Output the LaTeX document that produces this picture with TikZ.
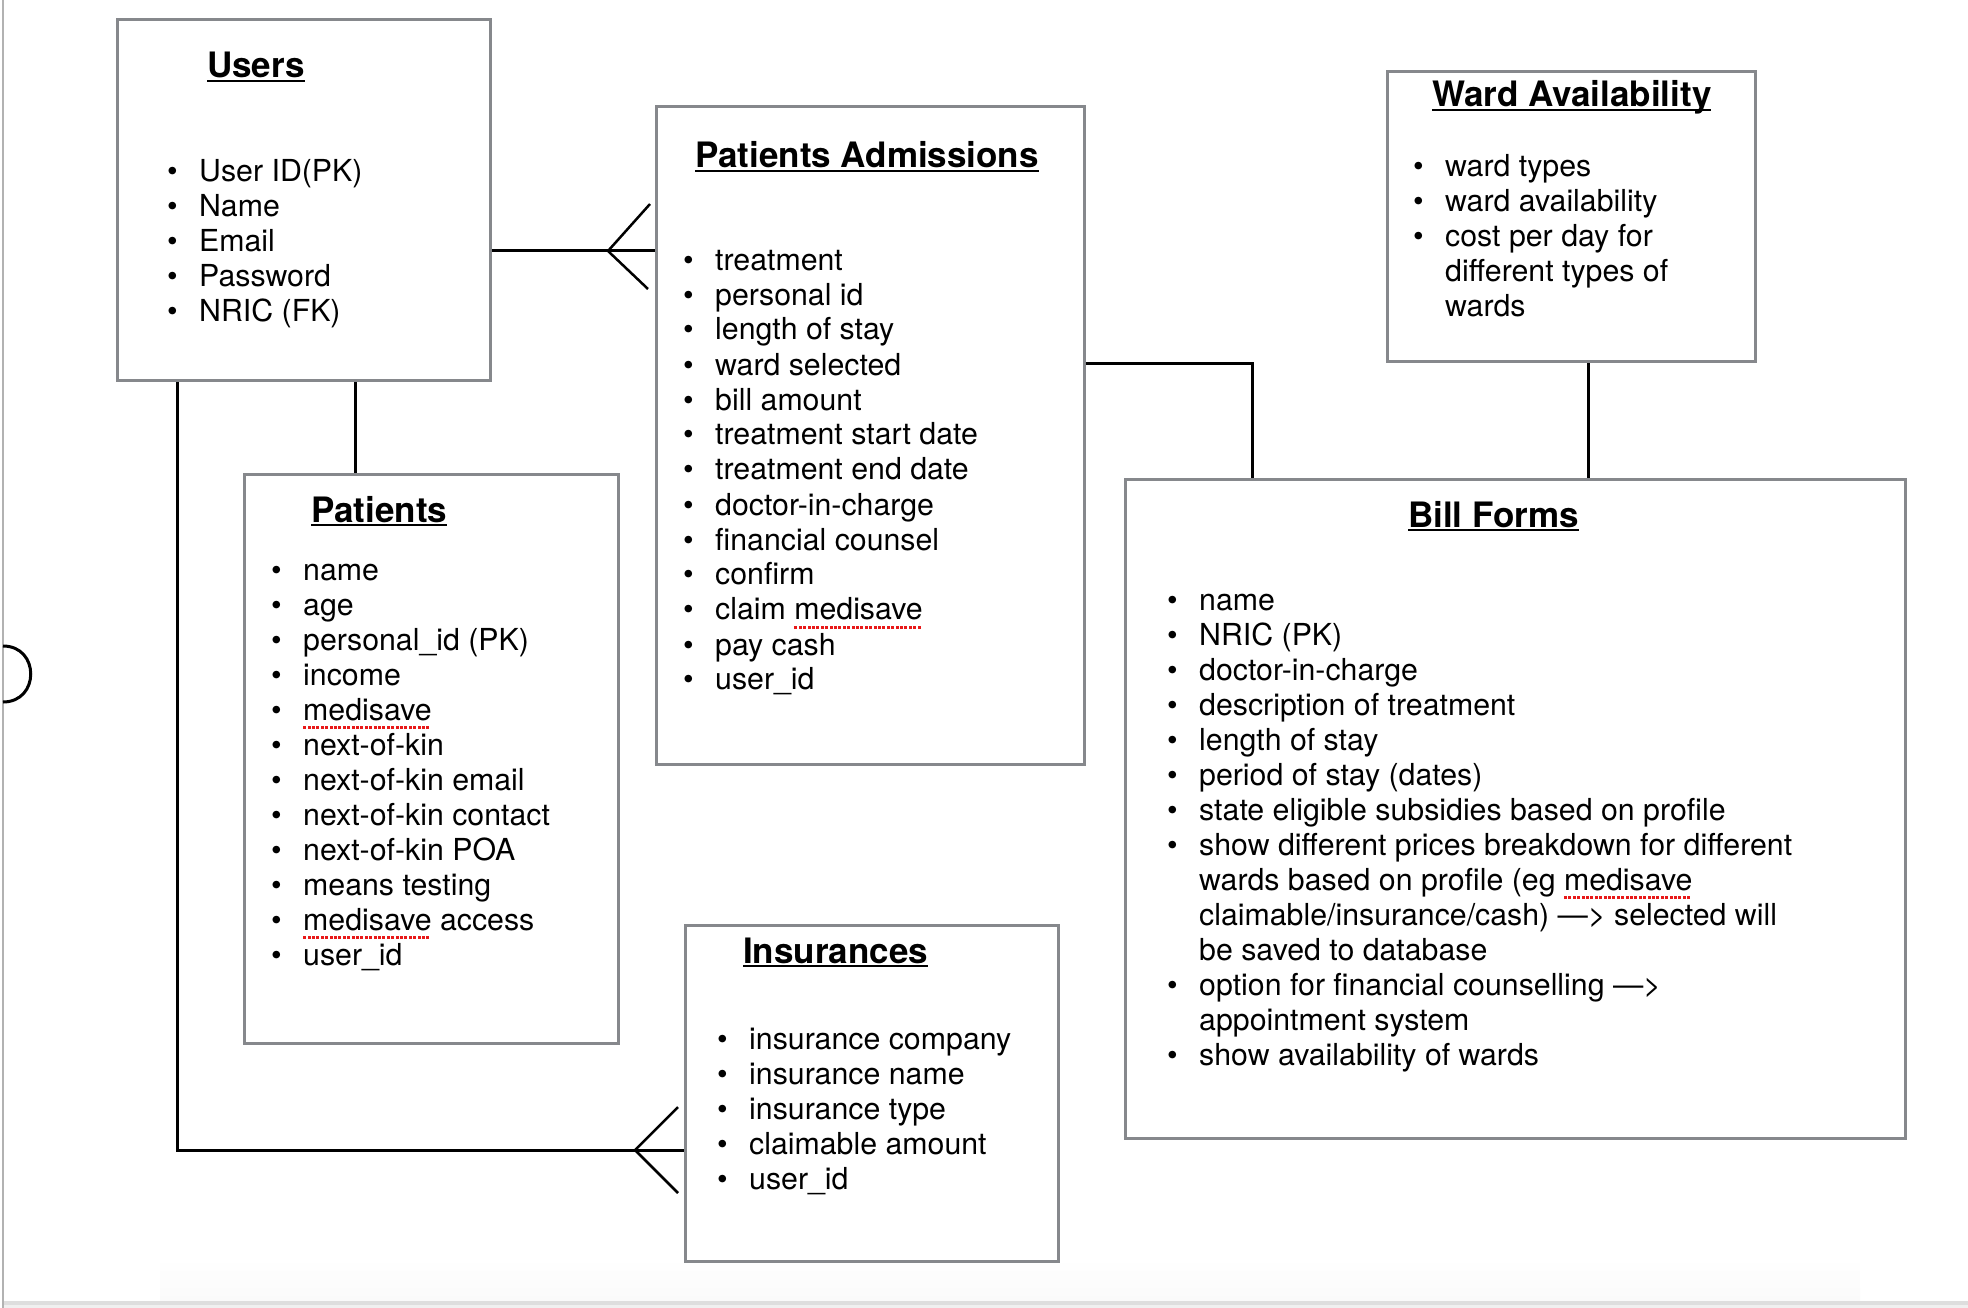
\documentclass[tikz,border=0pt]{standalone}
\usepackage{fontspec}
\setmainfont{TeX Gyre Heros}
\definecolor{boxgray}{RGB}{134,136,140}
\definecolor{markred}{RGB}{232,24,24}
\newlength\marklen
\newcommand\spellmark[1]{\settowidth\marklen{#1}\rlap{#1}\raisebox{-9pt}{\textcolor{markred}{\leaders\hbox to 4.4pt{\rule{3pt}{3pt}\hfil}\hskip\marklen}}}
\newcommand\enttitle[1]{\settowidth\marklen{#1}\rlap{#1}\rule[-4.2pt]{\marklen}{2.4pt}}
\newcommand\itm{\makebox[32pt][l]{\textbullet}}
\newcommand\cnt{\hspace*{32pt}}

\begin{document}
\begin{tikzpicture}[x=1pt, y=-1pt,
  entity/.style={draw=boxgray, line width=3pt, anchor=north west, inner sep=0pt},
  title/.style={anchor=base west, inner sep=0pt, font=\fontsize{35}{42}\selectfont\bfseries},
  attrs/.style={anchor=base west, inner sep=0pt, font=\fontsize{30.3}{35}\selectfont},
  rel/.style={line width=3pt},
  foot/.style={line width=2.5pt}]
\useasboundingbox (0,0) rectangle (1968,1308);

\shade[top color=white, bottom color=black!2] (160,1258) rectangle (1860,1301);
\fill[black!13] (4,1301) rectangle (1968,1305);
\fill[black!6] (4,1305) rectangle (1968,1308);
\draw[black!30, line width=2pt] (3,0) -- (3,1308);
\draw[rel] (3,646) .. controls (40,646) and (40,702) .. (3,702);

\node (users)[entity, minimum width=373, minimum height=361] at (116,18) {};
\node (admissions)[entity, minimum width=428, minimum height=658] at (655,105) {};
\node (ward)[entity, minimum width=368, minimum height=290] at (1386,70) {};
\node (patients)[entity, minimum width=374, minimum height=569] at (243,473) {};
\node (bills)[entity, minimum width=780, minimum height=659] at (1124,478) {};
\node (insurances)[entity, minimum width=373, minimum height=336] at (684,924) {};

\node (usersT)[title] at ([shift={(91,60)}]users.north west) {\enttitle{Users}};
\node (usersA)[attrs] at ([shift={(51,164)}]users.north west) {\begin{tabular}[t]{@{}l@{}}
\itm User ID(PK)\\ \itm Name\\ \itm Email\\ \itm Password\\ \itm NRIC (FK)
\end{tabular}};

\node (admissionsT)[title] at ([shift={(40,63)}]admissions.north west) {\enttitle{Patients Admissions}};
\node (admissionsA)[attrs] at ([shift={(28,165)}]admissions.north west) {\begin{tabular}[t]{@{}l@{}}
\itm treatment\\ \itm personal id\\ \itm length of stay\\ \itm ward selected\\ \itm bill amount\\
\itm treatment start date\\ \itm treatment end date\\ \itm doctor-in-charge\\ \itm financial counsel\\
\itm confirm\\ \itm claim \spellmark{medisave}\\ \itm pay cash\\ \itm user\_id
\end{tabular}};

\node (wardT)[title] at ([shift={(46,37)}]ward.north west) {\enttitle{Ward Availability}};
\node (wardA)[attrs] at ([shift={(27,107)}]ward.north west) {\begin{tabular}[t]{@{}l@{}}
\itm ward types\\ \itm ward availability\\ \itm cost per day for\\ \cnt different types of\\ \cnt wards
\end{tabular}};

\node (patientsT)[title] at ([shift={(68,49)}]patients.north west) {\enttitle{Patients}};
\node (patientsA)[attrs] at ([shift={(28,107)}]patients.north west) {\begin{tabular}[t]{@{}l@{}}
\itm name\\ \itm age\\ \itm personal\_id (PK)\\ \itm income\\ \itm \spellmark{medisave}\\ \itm next-of-kin\\
\itm next-of-kin email\\ \itm next-of-kin contact\\ \itm next-of-kin POA\\ \itm means testing\\
\itm \spellmark{medisave} access\\ \itm user\_id
\end{tabular}};

\node (billsT)[title] at ([shift={(284,49)}]bills.north west) {\enttitle{Bill Forms}};
\node (billsA)[attrs] at ([shift={(43,132)}]bills.north west) {\begin{tabular}[t]{@{}l@{}}
\itm name\\ \itm NRIC (PK)\\ \itm doctor-in-charge\\ \itm description of treatment\\ \itm length of stay\\
\itm period of stay (dates)\\ \itm state eligible subsidies based on profile\\
\itm show different prices breakdown for different\\ \cnt wards based on profile (eg \spellmark{medisave}\\
\cnt claimable/insurance/cash) —> selected will\\ \cnt be saved to database\\
\itm option for financial counselling —>\\ \cnt appointment system\\ \itm show availability of wards
\end{tabular}};

\node (insurancesT)[title] at ([shift={(59,39)}]insurances.north west) {\enttitle{Insurances}};
\node (insurancesA)[attrs] at ([shift={(33,125)}]insurances.north west) {\begin{tabular}[t]{@{}l@{}}
\itm insurance company\\ \itm insurance name\\ \itm insurance type\\ \itm claimable amount\\ \itm user\_id
\end{tabular}};

\coordinate (ua) at (608,251);
\coordinate (ui) at (635,1150);
\coordinate (upx) at (355,0);
\coordinate (uix) at (177,0);
\coordinate (aby) at (0,363);
\coordinate (abx) at (1252,0);
\coordinate (wbx) at (1588,0);

\draw[rel] (users.east |- ua) -- (admissions.west |- ua);
\draw[foot] (ua) ++(42,-47) -- (ua) -- ++(40,38);
\draw[rel] (users.south -| upx) -- (patients.north -| upx);
\draw[rel] (users.south -| uix) |- (insurances.west |- ui);
\draw[foot] (ui) ++(43,-43) -- (ui) -- ++(43,43);
\draw[rel] (admissions.east |- aby) -| (bills.north -| abx);
\draw[rel] (ward.south -| wbx) -- (bills.north -| wbx);
\end{tikzpicture}
\end{document}
